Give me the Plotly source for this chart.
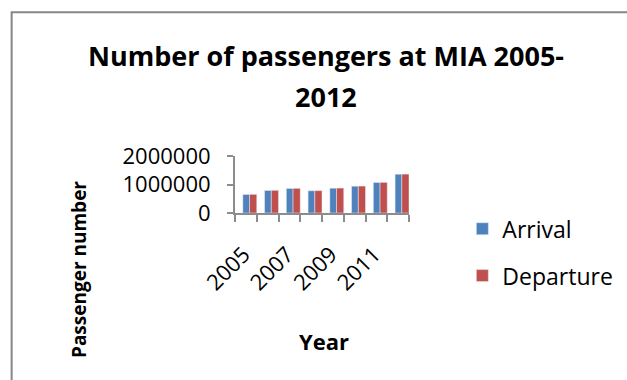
import plotly.graph_objects as go

years = [2005, 2006, 2007, 2008, 2009, 2010, 2011, 2012]
arrival = [650000, 790000, 860000, 780000, 870000, 940000, 1070000, 1360000]
departure = [655000, 795000, 865000, 785000, 875000, 945000, 1075000, 1365000]
year_ticks = [2005, 2007, 2009, 2011]
y_ticks = [0, 1000000, 2000000]

W, H = 627, 380
L, R, T, B = 235, 409.5, 156, 212.7


def px(x):
    return (x - L) / (R - L)


def py(y):
    return (B - y) / (B - T)


FONT = "Open Sans"
AX = "#8c8c8c"

fig = go.Figure()
fig.add_trace(go.Bar(x=years, y=arrival, name="Arrival", marker_color="#4F81BD",
                     offset=-0.14, width=0.31, legendgroup="a"))
fig.add_trace(go.Bar(x=years, y=departure, name="Departure", marker_color="#C0504D",
                     offset=0.17, width=0.33, legendgroup="d"))

fig.update_layout(
    width=W, height=H,
    margin=dict(l=L, r=W - R, t=T, b=H - B, autoexpand=False),
    paper_bgcolor="white", plot_bgcolor="white",
    barmode="overlay",
    font=dict(family=FONT, color="black"),
    showlegend=True,
    legend=dict(x=px(463), y=py(207), xanchor="left", yanchor="top",
                font=dict(size=23, family=FONT), tracegroupgap=14,
                maxheight=300, bgcolor="rgba(0,0,0,0)"),
    xaxis=dict(range=[2004.5, 2012.5], tickmode="array",
               tickvals=[v - 0.1 for v in year_ticks],
               ticktext=[str(v) for v in year_ticks], tickangle=-45,
               ticks="outside", ticklen=7, tickcolor="rgba(0,0,0,0)",
               ticklabelstandoff=11,
               tickfont=dict(size=22, family=FONT),
               showline=True, linecolor=AX, linewidth=2, showgrid=False, zeroline=False,
               minor=dict(tickmode="array",
                          tickvals=[y - 0.5 for y in years] + [years[-1] + 0.5],
                          ticks="outside", ticklen=7, tickcolor=AX, tickwidth=2)),
    yaxis=dict(range=[0, 2000000], tickmode="array", tickvals=y_ticks,
               ticktext=[str(v) for v in y_ticks], ticks="outside", ticklen=6,
               ticklabelstandoff=12,
               tickcolor=AX, tickwidth=2, tickfont=dict(size=22, family=FONT),
               showline=True, linecolor=AX, linewidth=2, showgrid=False, zeroline=False),
    shapes=[dict(type="rect", xref="paper", yref="paper",
                 x0=px(11), x1=px(700), y0=py(500), y1=py(13),
                 line=dict(color="#868686", width=2), fillcolor="rgba(0,0,0,0)",
                 layer="below")],
    annotations=[
        dict(text="<b>Number of passengers at MIA 2005-</b>", x=px(326), y=py(56),
             xref="paper", yref="paper", showarrow=False, xanchor="center", yanchor="middle",
             font=dict(size=27, family=FONT)),
        dict(text="<b>2012</b>", x=px(326), y=py(97),
             xref="paper", yref="paper", showarrow=False, xanchor="center", yanchor="middle",
             font=dict(size=27, family=FONT)),
        dict(text="<b>Passenger number</b>", x=px(78), y=py(269), textangle=-90,
             xref="paper", yref="paper", showarrow=False, xanchor="center", yanchor="middle",
             font=dict(size=19, family=FONT)),
        dict(text="<b>Year</b>", x=px(324), y=py(340),
             xref="paper", yref="paper", showarrow=False, xanchor="center", yanchor="middle",
             font=dict(size=22, family=FONT)),
    ],
)

fig.write_html("out.html", config={"displayModeBar": False},
               post_script="document.body.style.margin='0';")
